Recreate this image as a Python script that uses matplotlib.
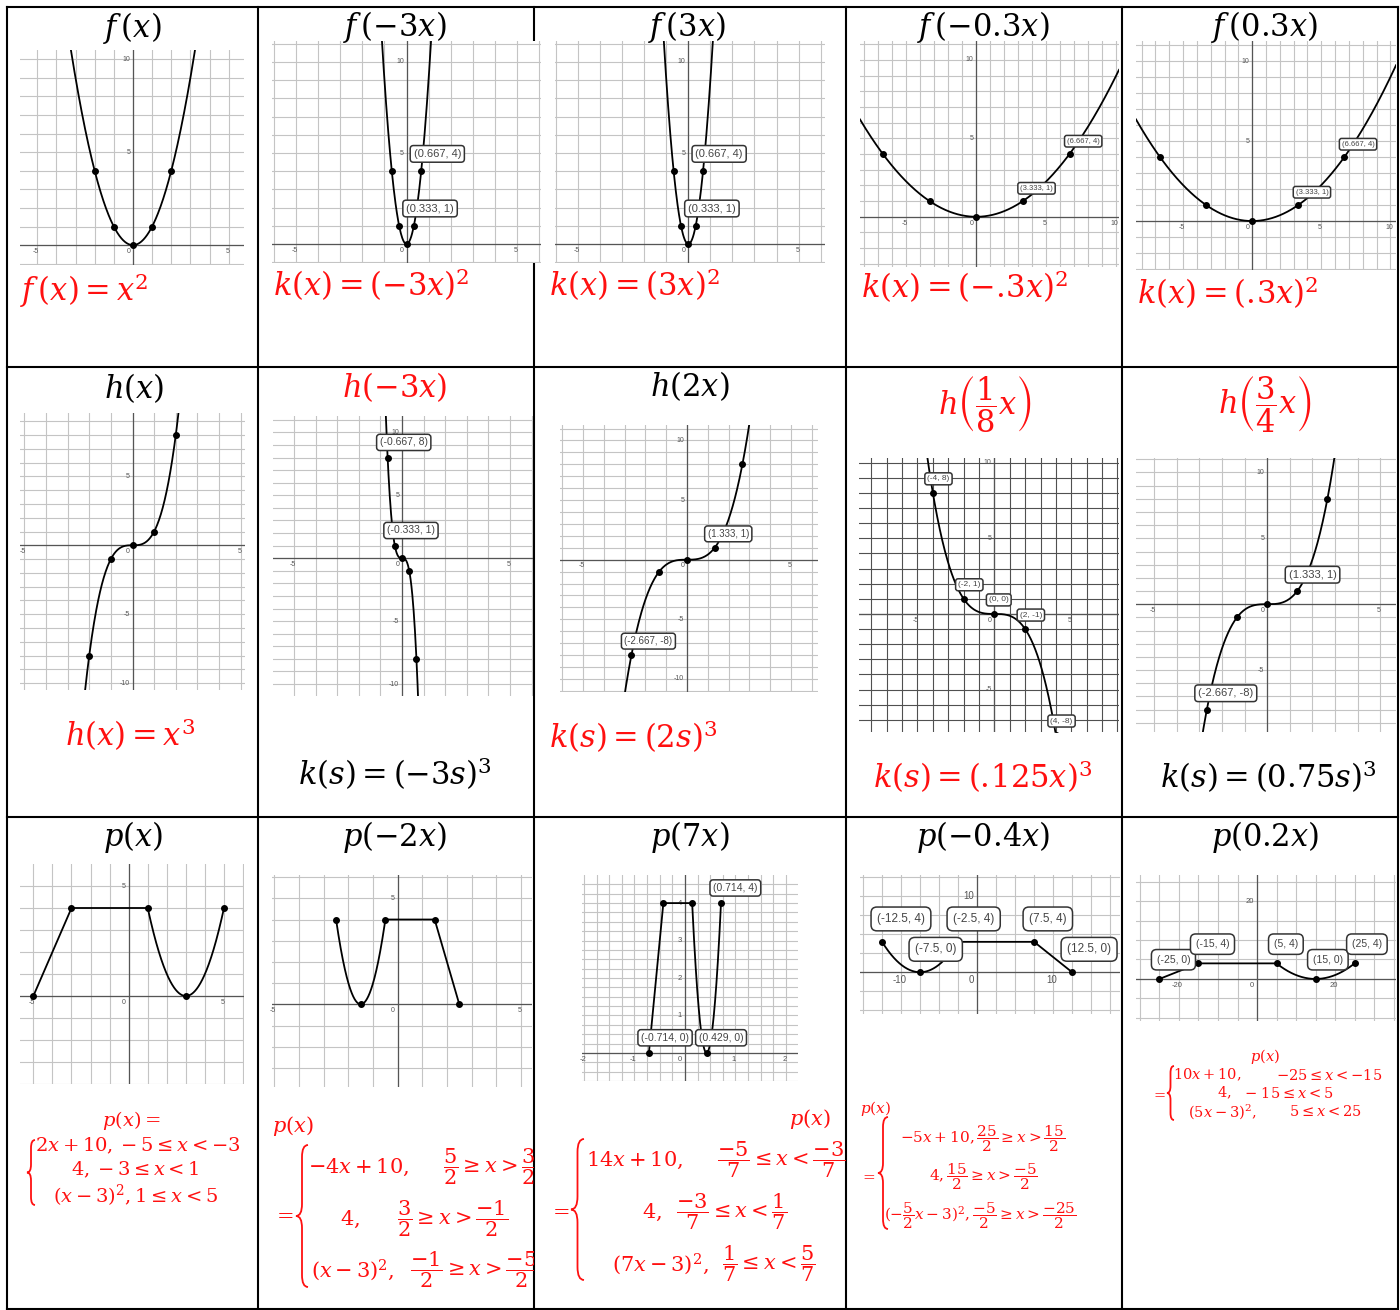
import numpy as np
import matplotlib
matplotlib.use("Agg")
import matplotlib.pyplot as plt
from matplotlib.path import Path
from matplotlib.patches import PathPatch, Rectangle

plt.rcParams["mathtext.fontset"] = "dejavuserif"
plt.rcParams["font.family"] = ["Liberation Sans", "DejaVu Sans"]

W, H = 1400, 1310
RED = "#ff1010"

# ---- row 1: f(x) = x^2 and its horizontal stretches ----
sq_titles = [r"$f\,(x)$", r"$f\,(-3x)$", r"$f\,(3x)$", r"$f\,(-0.3x)$", r"$f\,(0.3x)$"]
sq_rules = [r"$f\,(x) = x^2$", r"$k(x) = (-3x)^2$", r"$k(x) = (3x)^2$",
            r"$k(x) = (-.\!3x)^2$", r"$k(x) = (.\!3x)^2$"]
sq_scale = [1, -3, 3, -0.3, 0.3]
sq_pts_x = [[-2, -1, 0, 1, 2],
            [-0.667, -0.333, 0, 0.333, 0.667],
            [-0.667, -0.333, 0, 0.333, 0.667],
            [-6.667, -3.333, 0, 3.333, 6.667],
            [-6.667, -3.333, 0, 3.333, 6.667]]
sq_pts_y = [[4, 1, 0, 1, 4]] * 5
sq_tags = [[], ["(0.667, 4)", "(0.333, 1)"], ["(0.667, 4)", "(0.333, 1)"],
           ["(6.667, 4)", "(3.333, 1)"], ["(6.667, 4)", "(3.333, 1)"]]
sq_tag_idx = [[], [4, 3], [4, 3], [4, 3], [4, 3]]
sq_xt = [[-5, 0, 5], [-5, 0, 5], [-5, 0, 5], [-5, 0, 5, 10], [-5, 0, 5, 10]]
sq_yt = [[5, 10]] * 5

# ---- row 2: h(x) = x^3 ----
cu_titles = [r"$h(x)$", r"$h(-3x)$", r"$h(2x)$",
             r"$h\left(\dfrac{1}{8}x\right)$", r"$h\left(\dfrac{3}{4}x\right)$"]
cu_title_colors = ["black", RED, "black", RED, RED]
cu_rules = [r"$h(x) = x^3$", r"$k(s) = (-3s)^3$", r"$k(s) = (2s)^3$",
            r"$k(s) = (.\!125x)^3$", r"$k(s) = (0.75s)^3$"]
cu_rule_colors = [RED, "black", RED, RED, "black"]
cu_scale = [1, -3, 0.75, -0.5, 0.75]   # what each screenshot actually plots
cu_pts_x = [[-2, -1, 0, 1, 2],
            [-0.667, -0.333, 0, 0.333, 0.667],
            [-2.667, -1.333, 0, 1.333, 2.667],
            [-4, -2, 0, 2, 4],
            [-2.667, -1.333, 0, 1.333, 2.667]]
cu_pts_y = [[-8, -1, 0, 1, 8], [8, 1, 0, -1, -8], [-8, -1, 0, 1, 8],
            [8, 1, 0, -1, -8], [-8, -1, 0, 1, 8]]
cu_tags = [[], ["(-0.667, 8)", "(-0.333, 1)"], ["(1.333, 1)", "(-2.667, -8)"],
           ["(-4, 8)", "(-2, 1)", "(0, 0)", "(2, -1)", "(4, -8)"],
           ["(1.333, 1)", "(-2.667, -8)"]]
cu_tag_idx = [[], [0, 1], [3, 0], [0, 1, 2, 3, 4], [3, 0]]
cu_xt = [[-5, 0, 5]] * 5
cu_yt = [[5, -5, -10], [10, 5, -5, -10], [10, 5, -5, -10], [10, 5, -5], [10, 5, -5, -10]]

# ---- row 3: piecewise p(x) ----
pw_titles = [r"$p(x)$", r"$p(-2x)$", r"$p(7x)$", r"$p(-0.4x)$", r"$p(0.2x)$"]
pw_scale = [1, -2, 7, -0.4, 0.2]
pw_pts_x = [[-5, -3, 1, 3, 5],
            [2.5, 1.5, -0.5, -1.5, -2.5],
            [-0.714, -0.429, 0.143, 0.429, 0.714],
            [12.5, 7.5, -2.5, -7.5, -12.5],
            [-25, -15, 5, 15, 25]]
pw_pts_y = [[0, 4, 4, 0, 4]] * 5
pw_tags = [[], [], ["(0.714, 4)", "(-0.714, 0)", "(0.429, 0)"],
           ["(12.5, 0)", "(7.5, 4)", "(-2.5, 4)", "(-7.5, 0)", "(-12.5, 4)"],
           ["(-25, 0)", "(-15, 4)", "(5, 4)", "(15, 0)", "(25, 4)"]]
pw_tag_idx = [[], [], [4, 0, 3], [0, 1, 2, 3, 4], [0, 1, 2, 3, 4]]
pw_xt = [[-5, 0, 5], [-5, 0, 5], [-2, -1, 0, 1, 2], [-10, 0, 10], [-20, 0, 20]]
pw_yt = [[5], [5], [1, 2, 3, 4], [10], [20]]


def p(t):
    return np.where(t < -3, 2 * t + 10, np.where(t < 1, 4, (t - 3) ** 2))


# layout (pixel boxes of the screenshots and their visible ranges)
sq_box = [(20, 50, 244, 265), (272, 41, 541, 263), (555, 41, 825, 263),
          (860, 41, 1119, 267), (1136, 41, 1396, 270)]
sq_lim = [((-5.9, 5.8), (-1.07, 10.5)), ((-6.1, 6.1), (-1.04, 11.15)),
          ((-6.05, 6.2), (-1.04, 11.15)), ((-8.3, 10.2), (-3.2, 11.2)),
          ((-8.4, 10.4), (-3.06, 11.25))]
cu_box = [(20, 413, 245, 690), (273, 416, 533, 696), (560, 425, 818, 692),
          (859, 458, 1119, 732), (1136, 458, 1396, 732)]
cu_lim = [((-5.2, 5.2), (-10.5, 9.6)), ((-5.97, 6.06), (-10.95, 11.3)),
          ((-6.1, 6.3), (-11.1, 11.3)), ((-8.8, 8.1), (-7.8, 10.3)),
          ((-5.8, 5.7), (-9.7, 11.1))]
pw_box = [(20, 864, 244, 1084), (272, 875, 532, 1087), (582, 875, 798, 1081),
          (860, 875, 1120, 1014), (1136, 875, 1396, 1021)]
pw_lim = [((-5.7, 6.05), (-4.0, 6.0)), ((-5.1, 5.45), (-3.9, 6.1)),
          ((-2.04, 2.24), (-0.75, 4.75)), ((-15.4, 18.8), (-5.5, 12.8)),
          ((-31, 35.6), (-10.8, 26.7))]

fig = plt.figure(figsize=(W / 100, H / 100), dpi=100)

bg = fig.add_axes([0, 0, 1, 1], zorder=0)
bg.set_xlim(0, W)
bg.set_ylim(H, 0)
bg.axis("off")
for x in [7, 258, 534, 846, 1122, 1398]:
    bg.plot([x, x], [7, 1309], color="black", lw=1.5)
for y in [7, 367, 817, 1309]:
    bg.plot([7, 1398], [y, y], color="black", lw=1.5)

fg = fig.add_axes([0, 0, 1, 1], zorder=10)
fg.set_xlim(0, W)
fg.set_ylim(H, 0)
fg.axis("off")
fg.patch.set_alpha(0)


def graph(box, lim, step, grid_color="#c4c4c4", xt=(), yt=(), tfs=5):
    x0, y0, x1, y1 = box
    ax = fig.add_axes([x0 / W, 1 - y1 / H, (x1 - x0) / W, (y1 - y0) / H], zorder=5)
    ax.set_xlim(*lim[0])
    ax.set_ylim(*lim[1])
    for s in ax.spines.values():
        s.set_visible(False)
    gx = np.arange(np.ceil(lim[0][0] / step) * step, lim[0][1], step)
    gy = np.arange(np.ceil(lim[1][0] / step) * step, lim[1][1], step)
    ax.set_xticks(gx)
    ax.set_yticks(gy)
    ax.tick_params(length=0, labelbottom=False, labelleft=False)
    ax.grid(True, color=grid_color, lw=0.8)
    ax.set_axisbelow(True)
    ax.axhline(0, color="#555555", lw=0.9, zorder=2)
    ax.axvline(0, color="#555555", lw=0.9, zorder=2)
    for v in xt:
        if v == 0:
            ax.annotate("0", (0, 0), xytext=(-2, -2), textcoords="offset points",
                        ha="right", va="top", fontsize=tfs, color="#555555")
        else:
            ax.annotate(f"{v:g}", (v, 0), xytext=(-1, -2), textcoords="offset points",
                        ha="center", va="top", fontsize=tfs, color="#555555")
    for v in yt:
        ax.annotate(f"{v:g}", (0, v), xytext=(-2, 0), textcoords="offset points",
                    ha="right", va="center", fontsize=tfs, color="#555555")
    return ax


def tags(ax, xs, ys, idx, texts, fs, dx, dy, pad=0.3):
    for i, s in zip(idx, texts):
        ax.annotate(s, (xs[i], ys[i]),
                    xytext=(dx * 0.72 + pad * fs, dy * 0.72 + pad * fs),
                    textcoords="offset points", ha="left", va="bottom",
                    fontsize=fs, color="#444444", zorder=7, annotation_clip=False,
                    bbox=dict(boxstyle=f"round,pad={pad}", fc="white", ec="#333333", lw=1.1))


def txt(x, y, s, color="black", size=22, ha="center", clip=None):
    t = fg.text(x, y, s, color=color, fontsize=size, ha=ha, va="center")
    if clip is not None:
        t.set_clip_path(Rectangle(clip[:2], clip[2], clip[3], transform=fg.transData))
        t.set_clip_on(True)
    return t


def brace(x, y0, y1, w, color=RED, lw=1.3):
    xm, xr, ym = x + w / 2, x + w, (y0 + y1) / 2
    r = min(w, (y1 - y0) / 6)
    verts = [(xr, y0), (xm, y0), (xm, y0 + r), (xm, ym - r), (xm, ym), (x, ym),
             (xm, ym), (xm, ym + r), (xm, y1 - r), (xm, y1), (xr, y1)]
    codes = [Path.MOVETO, Path.CURVE3, Path.CURVE3, Path.LINETO, Path.CURVE3, Path.CURVE3,
             Path.CURVE3, Path.CURVE3, Path.LINETO, Path.CURVE3, Path.CURVE3]
    fg.add_patch(PathPatch(Path(verts, codes), fc="none", ec=color, lw=lw))


# row 1
sq_tag_style = [None, (8, -11, 9), (8, -11, 9), (5.5, -5, 7), (5.5, -5, 7)]
sq_title_pos = [(132, 28), (395, 27), (687, 27), (983, 27), (1265, 27)]
sq_rule_pos = [(20, 290), (273, 285), (549, 285), (861, 287), (1137, 293)]
for i in range(5):
    ax = graph(sq_box[i], sq_lim[i], 1, xt=sq_xt[i], yt=sq_yt[i])
    xs = np.linspace(*sq_lim[i][0], 600)
    ax.plot(xs, (sq_scale[i] * xs) ** 2, color="black", lw=1.3, zorder=3)
    ax.plot(sq_pts_x[i], sq_pts_y[i], "o", color="black", ms=4, zorder=4)
    if sq_tags[i]:
        fs, dx, dy = sq_tag_style[i]
        tags(ax, sq_pts_x[i], sq_pts_y[i], sq_tag_idx[i], sq_tags[i], fs, dx, dy)
    txt(*sq_title_pos[i], sq_titles[i])
    txt(*sq_rule_pos[i], sq_rules[i], color=RED, ha="left")

# row 2
cu_tag_style = [None, (7.5, -11, 7), (7, -10, 6), (6, -8, 8), (8, -12, 8)]
cu_title_pos = [(134, 388), (395, 387), (690, 386), (985, 405), (1265, 405)]
cu_rule_pos = [(130, 735, "center"), (395, 774, "center"), (549, 737, "left"),
               (983, 777, "center"), (1268, 777, "center")]
for i in range(5):
    gc = "#505050" if i == 3 else "#c4c4c4"
    ax = graph(cu_box[i], cu_lim[i], 1, grid_color=gc, xt=cu_xt[i], yt=cu_yt[i])
    xs = np.linspace(*cu_lim[i][0], 600)
    ax.plot(xs, (cu_scale[i] * xs) ** 3, color="black", lw=1.3, zorder=3)
    ax.plot(cu_pts_x[i], cu_pts_y[i], "o", color="black", ms=4, zorder=4)
    if cu_tags[i]:
        fs, dx, dy = cu_tag_style[i]
        tags(ax, cu_pts_x[i], cu_pts_y[i], cu_tag_idx[i], cu_tags[i], fs, dx, dy)
    txt(*cu_title_pos[i], cu_titles[i], color=cu_title_colors[i])
    x, y, ha = cu_rule_pos[i]
    txt(x, y, cu_rules[i], color=cu_rule_colors[i], ha=ha)

# row 3
pw_step = [1, 1, 0.25, 2.5, 5]
pw_tfs = [5, 5, 5.5, 7, 5.5]
pw_tag_style = [None, None, (7.5, -11, 7, 0.3), (8.5, -11, 11, 0.5), (7.5, -8, 9, 0.5)]
pw_title_pos = [(133, 837), (395, 837), (690, 837), (983, 837), (1265, 837)]
for i in range(5):
    ax = graph(pw_box[i], pw_lim[i], pw_step[i], xt=pw_xt[i], yt=pw_yt[i], tfs=pw_tfs[i])
    xs = np.linspace(min(pw_pts_x[i]), max(pw_pts_x[i]), 800)
    ax.plot(xs, p(pw_scale[i] * xs), color="black", lw=1.3, zorder=3)
    ax.plot(pw_pts_x[i], pw_pts_y[i], "o", color="black", ms=4, zorder=4)
    if pw_tags[i]:
        fs, dx, dy, pad = pw_tag_style[i]
        tags(ax, pw_pts_x[i], pw_pts_y[i], pw_tag_idx[i], pw_tags[i], fs, dx, dy, pad)
    txt(*pw_title_pos[i], pw_titles[i])

# piecewise rules written under each p graph
txt(131, 1121, r"$p(x) =$", RED, 14)
brace(27, 1140, 1205, 8)
txt(35, 1146, r"$2x + 10, -5 \leq x < -3$", RED, 14, "left")
txt(135, 1170, r"$4, -3 \leq x < 1$", RED, 14)
txt(136, 1196, r"$(x - 3)^2, 1 \leq x < 5$", RED, 14)

c1 = (258, 817, 276, 493)
txt(272, 1126, r"$p(x)$", RED, 15, "left")
txt(273, 1215, r"$=$", RED, 15, "left")
brace(296, 1145, 1287, 12)
txt(308, 1167, r"$-4x + 10,$", RED, 15, "left")
txt(443, 1167, r"$\dfrac{5}{2} \geq x > \dfrac{3}{2}$", RED, 15, "left", clip=c1)
txt(340, 1219, r"$4,$", RED, 15, "left")
txt(397, 1219, r"$\dfrac{3}{2} \geq x > \dfrac{-1}{2}$", RED, 15, "left", clip=c1)
txt(311, 1270, r"$(x - 3)^2,$", RED, 15, "left")
txt(410, 1270, r"$\dfrac{-1}{2} \geq x > \dfrac{-5}{2}$", RED, 15, "left", clip=c1)

txt(831, 1119, r"$p(x)$", RED, 15, "right")
txt(549, 1211, r"$=$", RED, 15, "left")
brace(571, 1139, 1280, 13)
txt(586, 1160, r"$14x + 10,$", RED, 15, "left")
txt(717, 1160, r"$\dfrac{-5}{7} \leq x < \dfrac{-3}{7}$", RED, 15, "left")
txt(642, 1212, r"$4,$", RED, 15, "left")
txt(676, 1212, r"$\dfrac{-3}{7} \leq x < \dfrac{1}{7}$", RED, 15, "left")
txt(612, 1264, r"$(7x - 3)^2,$", RED, 15, "left")
txt(722, 1264, r"$\dfrac{1}{7} \leq x < \dfrac{5}{7}$", RED, 15, "left")

txt(860, 1109, r"$p(x)$", RED, 11, "left")
txt(860, 1176, r"$=$", RED, 11, "left")
brace(878, 1117, 1229, 10)
txt(983, 1139, r"$-5x + 10, \dfrac{25}{2} \geq x > \dfrac{15}{2}$", RED, 11)
txt(983, 1177, r"$4, \dfrac{15}{2} \geq x > \dfrac{-5}{2}$", RED, 11)
txt(980, 1216, r"$(-\dfrac{5}{2}x - 3)^2, \dfrac{-5}{2} \geq x > \dfrac{-25}{2}$", RED, 11)

txt(1265, 1056, r"$p(x)$", RED, 10.5)
txt(1151, 1094, r"$=$", RED, 10.5, "left")
brace(1167, 1066, 1120, 7)
txt(1173, 1075, r"$10x + 10,$", RED, 10.5, "left")
txt(1382, 1075, r"$-25 \leq x < -15$", RED, 10.5, "right")
txt(1217, 1093, r"$4,$", RED, 10.5, "left")
txt(1244, 1093, r"$-\ 15 \leq x < 5$", RED, 10.5, "left")
txt(1188, 1112, r"$(5x - 3)^2,$", RED, 10.5, "left")
txt(1289, 1112, r"$5 \leq x < 25$", RED, 10.5, "left")

fig.savefig("out.png", dpi=100)
